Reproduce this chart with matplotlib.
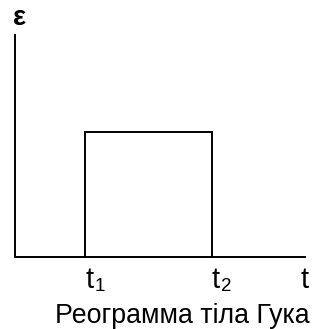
import matplotlib
matplotlib.use("Agg")
import matplotlib.pyplot as plt
from matplotlib.transforms import offset_copy

plt.rcParams['font.family'] = ['Liberation Sans', 'DejaVu Sans']

# деформація тіла Гука: ступінь напруження між t1 і t2
t_on = 1.0
t_off = 2.81
eps_level = 1.0
t_max = 4.14
eps_max = 1.78

tick_pos = [t_on, t_off]
tick_subs = ["1", "2"]

W, H = 321, 329
fig = plt.figure(figsize=(W / 100, H / 100), dpi=100)
ax = fig.add_axes([15 / W, (H - 257) / H, (305 - 15) / W, (257 - 35) / H])
ax.set_xlim(0, t_max)
ax.set_ylim(0, eps_max)
for s in ("top", "right"):
    ax.spines[s].set_visible(False)
for s in ("left", "bottom"):
    ax.spines[s].set_linewidth(1.4)
    ax.spines[s].set_color("black")
ax.set_xticks([])
ax.set_yticks([])
ax.patch.set_alpha(0)

ax.plot([t_on, t_on, t_off, t_off], [0, eps_level, eps_level, 0],
        color="black", linewidth=1.4, solid_joinstyle="miter", clip_on=False)

# підписи під віссю часу (базова лінія ~31 px нижче осі), індекси окремим текстом
tr = ax.get_xaxis_transform()
y_lab = -31 / 222
sub_tr = offset_copy(tr, fig=fig, x=9.5, y=-3, units="dots")
for x, sub in zip(tick_pos, tick_subs):
    ax.text(x, y_lab, "t", transform=tr, ha="left", va="baseline", fontsize=21)
    ax.text(x, y_lab, sub, transform=sub_tr, ha="left", va="baseline", fontsize=13.5)
ax.text(t_max - 0.01, y_lab, "t", transform=tr, ha="center", va="baseline", fontsize=21)

fig.text(13 / W, 1 - 25 / H, "ε", ha="left", va="baseline", fontsize=20, fontweight="bold")
fig.text(182.5 / W, 1 - 323 / H, "Реограмма тіла Гука", ha="center", va="baseline",
         fontsize=19.3)

fig.savefig("out.png", dpi=100)
